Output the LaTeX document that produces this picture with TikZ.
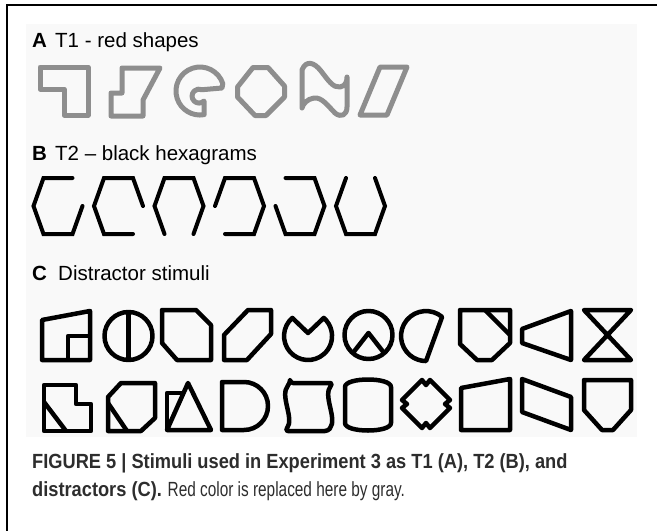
\documentclass[tikz,border=0pt]{standalone}
\definecolor{panelgray}{RGB}{249,249,249}
\definecolor{shapegray}{RGB}{142,142,142}
\definecolor{captext}{RGB}{45,45,45}
\usepackage{fontspec}
\setmainfont{Liberation Sans}
\newfontfamily\capbf[FakeStretch=0.89]{Liberation Sans}
\newfontfamily\caprm[FakeStretch=0.75]{Liberation Sans}
\usepackage{tikz}
\usetikzlibrary{calc}

\begin{document}
\begin{tikzpicture}[x=1pt, y=1pt,
    redshape/.style={draw=shapegray, line width=5pt, line join=round},
    hexline/.style={draw=black, line width=4pt, line cap=round},
    distshape/.style={draw=black, line width=4.5pt, line join=round},
    lab/.style={inner sep=0pt, anchor=base west, font=\fontsize{20.5}{24}\selectfont},
    captxt/.style={inner sep=0pt, anchor=base west, text=captext, font=\fontsize{20.5}{24}\selectfont}]
    \useasboundingbox (0,0) rectangle (657,-531);

    % Frame and panel
    \draw[line width=1.5pt] (657,-5) -- (7,-5) -- (7,-531);
    \fill[panelgray] (26,-24) rectangle (637,-437);

    % Panel A
    \node[lab] (labA) at (32,-47) {\textbf{A}};
    \node[lab] (txtA) at (55,-47) {T1 - red shapes};

    \draw[redshape] (40,-67) -- (88,-67) -- (88,-115) -- (64,-115) -- (64,-89) -- (40,-89) -- cycle;
    \draw[redshape] (111,-93) -- (122,-93) -- (122,-68) -- (160,-68) -- (143,-100) -- (143,-116) -- (111,-116) -- cycle;
    \draw[redshape] (222.8,-83.6) arc[start angle=18, end angle=280, radius=24] -- (204,-101)
        arc[start angle=-45, end angle=-295, radius=7] -- (222,-88) -- cycle;
    \draw[redshape] (253,-67.5) -- (268,-67.5) -- (284.5,-86) -- (284.5,-97) -- (266,-115.5) -- (255,-115.5) -- (237.5,-97) -- (237.5,-87) -- cycle;
    \draw[redshape] (302,-70) .. controls (306,-60) and (314,-62) .. (321,-71) .. controls (328,-80) and (333,-88) .. (340,-87)
        .. controls (346,-86) and (347,-81) .. (347,-77) -- (347,-107) .. controls (347,-115) and (341,-118) .. (335,-113)
        .. controls (328,-106) and (322,-97) .. (314,-98) .. controls (307,-99) and (303,-104) .. (302,-108) -- cycle;
    \draw[redshape] (380,-67) -- (407,-67) -- (387,-115) -- (360,-115) -- cycle;

    % Panel B
    \node[lab] (labB) at (32,-160) {\textbf{B}};
    \node[lab] (txtB) at (55,-160) {T2 -- black hexagrams};

    \draw[hexline, shift={(58,-206)}] (24.5,0) -- (14.5,-28) -- (-14.5,-28) -- (-24.5,0) -- (-14.5,28) -- (14.5,28);
    \draw[hexline, shift={(118.5,-206)}] (14.5,-28) -- (-14.5,-28) -- (-24.5,0) -- (-14.5,28) -- (14.5,28) -- (24.5,0);
    \draw[hexline, shift={(179,-206)}] (-14.5,-28) -- (-24.5,0) -- (-14.5,28) -- (14.5,28) -- (24.5,0) -- (14.5,-28);
    \draw[hexline, shift={(239.5,-206)}] (-24.5,0) -- (-14.5,28) -- (14.5,28) -- (24.5,0) -- (14.5,-28) -- (-14.5,-28);
    \draw[hexline, shift={(300,-206)}] (-14.5,28) -- (14.5,28) -- (24.5,0) -- (14.5,-28) -- (-14.5,-28) -- (-24.5,0);
    \draw[hexline, shift={(360.5,-206)}] (14.5,28) -- (24.5,0) -- (14.5,-28) -- (-14.5,-28) -- (-24.5,0) -- (-14.5,28);

    % Panel C, first row
    \node[lab] (labC) at (32,-280) {\textbf{C}};
    \node[lab] (txtC) at (58,-280) {Distractor stimuli};

    \draw[distshape] (42,-320) -- (90,-311) -- (90,-360) -- (42,-360) -- cycle;
    \draw[distshape] (68,-360) -- (68,-336) -- (90,-336);
    \draw[distshape] (128.5,-336) circle[radius=24];
    \draw[distshape] (128.5,-312) -- (128.5,-360);
    \draw[distshape] (162,-310) -- (196,-310) -- (211,-325) -- (211,-360) -- (177,-360) -- (162,-343) -- cycle;
    \draw[distshape] (248,-310) -- (271,-310) -- (271,-334) -- (247,-360) -- (224,-360) -- (224,-335) -- cycle;
    \draw[distshape] (308,-333) -- (292.3,-317.9) arc[start angle=131, end angle=409, radius=24] -- cycle;
    \draw[distshape] (368.5,-335) circle[radius=24];
    \draw[distshape] (352.8,-353.1) -- (368.5,-333) -- (384.2,-353.1);
    \draw[distshape] (442.1,-316.9) arc[start angle=50, end angle=270, radius=25] -- cycle;
    \draw[distshape] (460,-310) -- (510,-310) -- (510,-343) -- (492,-360) -- (477,-360) -- (460,-344) -- cycle;
    \draw[distshape] (485,-310) -- (510,-335);
    \draw[distshape] (522,-329) -- (571,-311) -- (571,-360) -- (522,-343) -- cycle;
    \draw[distshape] (584,-310) -- (631,-310) -- (584,-360) -- (631,-360) -- cycle;

    % Panel C, second row
    \draw[distshape] (44,-385) -- (76,-385) -- (76,-404) -- (91,-404) -- (91,-431) -- (44,-431) -- cycle;
    \draw[distshape] (44,-402) -- (66,-431);
    \draw[distshape] (121,-383) -- (155,-383) -- (155,-418) -- (141,-431) -- (108,-431) -- (108,-397) -- cycle;
    \draw[distshape] (108,-403) -- (127,-431);
    \draw[distshape] (188,-383) -- (211,-430) -- (167,-430) -- cycle;
    \draw[distshape] (167,-430) -- (167,-393) -- (184,-393);
    \draw[distshape] (222,-382) -- (244,-382) arc[start angle=90, end angle=-90, radius=24] -- (222,-430) -- cycle;
    \draw[distshape, rounded corners=3pt] (290,-383) -- (333,-383) .. controls (322,-396) and (338,-418) .. (328,-431)
        -- (285,-431) .. controls (295,-418) and (279,-396) .. (290,-383) -- cycle;
    \draw[distshape] (345,-387) .. controls (345,-377) and (391,-377) .. (391,-387) -- (391,-423)
        .. controls (391,-433) and (345,-433) .. (345,-423) -- cycle;
    \draw[distshape] (422,-380) -- (426,-385) -- (430,-380) -- (450,-400) -- (445,-404) -- (450,-408) -- (430,-428)
        -- (426,-423) -- (422,-428) -- (402,-408) -- (407,-404) -- (402,-400) -- cycle;
    \draw[distshape] (461,-388) -- (510,-379) -- (510,-430) -- (461,-430) -- cycle;
    \draw[distshape] (522,-379) -- (571,-397) -- (571,-430) -- (522,-412) -- cycle;
    \draw[distshape] (584,-380) -- (631,-380) -- (631,-410) -- (613,-430) -- (602,-430) -- (584,-410) -- cycle;

    % Caption
    \node[captxt] (cap1) at (32,-468) {\capbf\bfseries FIGURE 5 | Stimuli used in Experiment 3 as T1 (A), T2 (B), and};
    \node[captxt] (cap2) at (32,-496) {{\capbf\bfseries distractors (C).} \caprm Red color is replaced here by gray.};
\end{tikzpicture}
\end{document}
